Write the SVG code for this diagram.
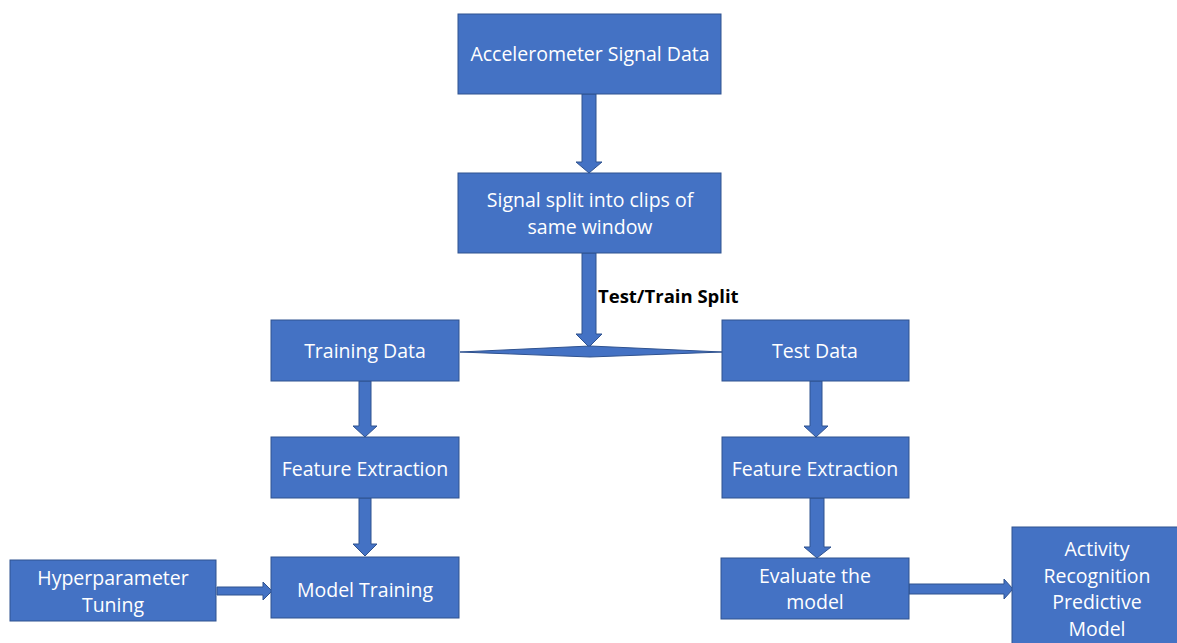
<svg xmlns="http://www.w3.org/2000/svg" width="1177" height="643" viewBox="0 0 1177 643">
<style>
.box{fill:#4472C4;stroke:#2F528F;stroke-width:1}
.arr{fill:#4472C4;stroke:#2F528F;stroke-width:1}
.t{fill:#ffffff;font-family:"Open Sans","Liberation Sans",sans-serif;font-size:19.5px;text-anchor:middle}
.lbl{fill:#000000;font-family:"Open Sans","Liberation Sans",sans-serif;font-size:18.5px;font-weight:bold}
</style>
<rect width="1177" height="643" fill="#ffffff"/>
<g id="connectors">
<polygon class="arr" points="582,94 596,94 596,162 602,162 589,173 576,162 582,162"/>
<polygon class="arr" points="582,253 596,253 596,334 602,334 589,347 576,334 582,334"/>
<polygon class="arr" points="460,352 590,346 722,352 590,357"/>
<polygon class="arr" points="359,381 371,381 371,426 377,426 365,437 353,426 359,426"/>
<polygon class="arr" points="359,498 371,498 371,544 377,544 365,556 353,544 359,544"/>
<polygon class="arr" points="810,381 822,381 822,426 828,426 816,437 804,426 810,426"/>
<polygon class="arr" points="810,498 824,498 824,547 831,547 817,558 804,547 810,547"/>
<polygon class="arr" points="217,587 263,587 263,582 272,591 263,600 263,595 217,595"/>
<polygon class="arr" points="909,584 1004,584 1004,579 1013,589 1004,599 1004,594 909,594"/>
<text class="lbl" x="598" y="303">Test/Train Split</text>
</g>
<g id="n1"><rect class="box" x="458" y="14" width="263" height="80"/><text class="t" x="590" y="61">Accelerometer Signal Data</text></g>
<g id="n2"><rect class="box" x="458" y="173" width="263" height="80"/><text class="t" x="590" y="207">Signal split into clips of</text><text class="t" x="590" y="234">same window</text></g>
<g id="n3"><rect class="box" x="271" y="320" width="188" height="61"/><text class="t" x="365" y="358">Training Data</text></g>
<g id="n4"><rect class="box" x="722" y="320" width="187" height="61"/><text class="t" x="815" y="358">Test Data</text></g>
<g id="n5"><rect class="box" x="271" y="437" width="188" height="61"/><text class="t" x="365" y="476">Feature Extraction</text></g>
<g id="n6"><rect class="box" x="722" y="437" width="187" height="61"/><text class="t" x="815" y="476">Feature Extraction</text></g>
<g id="n7"><rect class="box" x="271" y="557" width="188" height="61"/><text class="t" x="365" y="597">Model Training</text></g>
<g id="n8"><rect class="box" x="10" y="560" width="206" height="61"/><text class="t" x="113" y="585">Hyperparameter</text><text class="t" x="113" y="612">Tuning</text></g>
<g id="n9"><rect class="box" x="721" y="558" width="188" height="61"/><text class="t" x="815" y="583">Evaluate the</text><text class="t" x="815" y="609">model</text></g>
<g id="n10"><rect class="box" x="1012" y="527" width="170" height="120"/><text class="t" x="1097" y="556">Activity</text><text class="t" x="1097" y="583">Recognition</text><text class="t" x="1097" y="609">Predictive</text><text class="t" x="1097" y="636">Model</text></g>
</svg>
